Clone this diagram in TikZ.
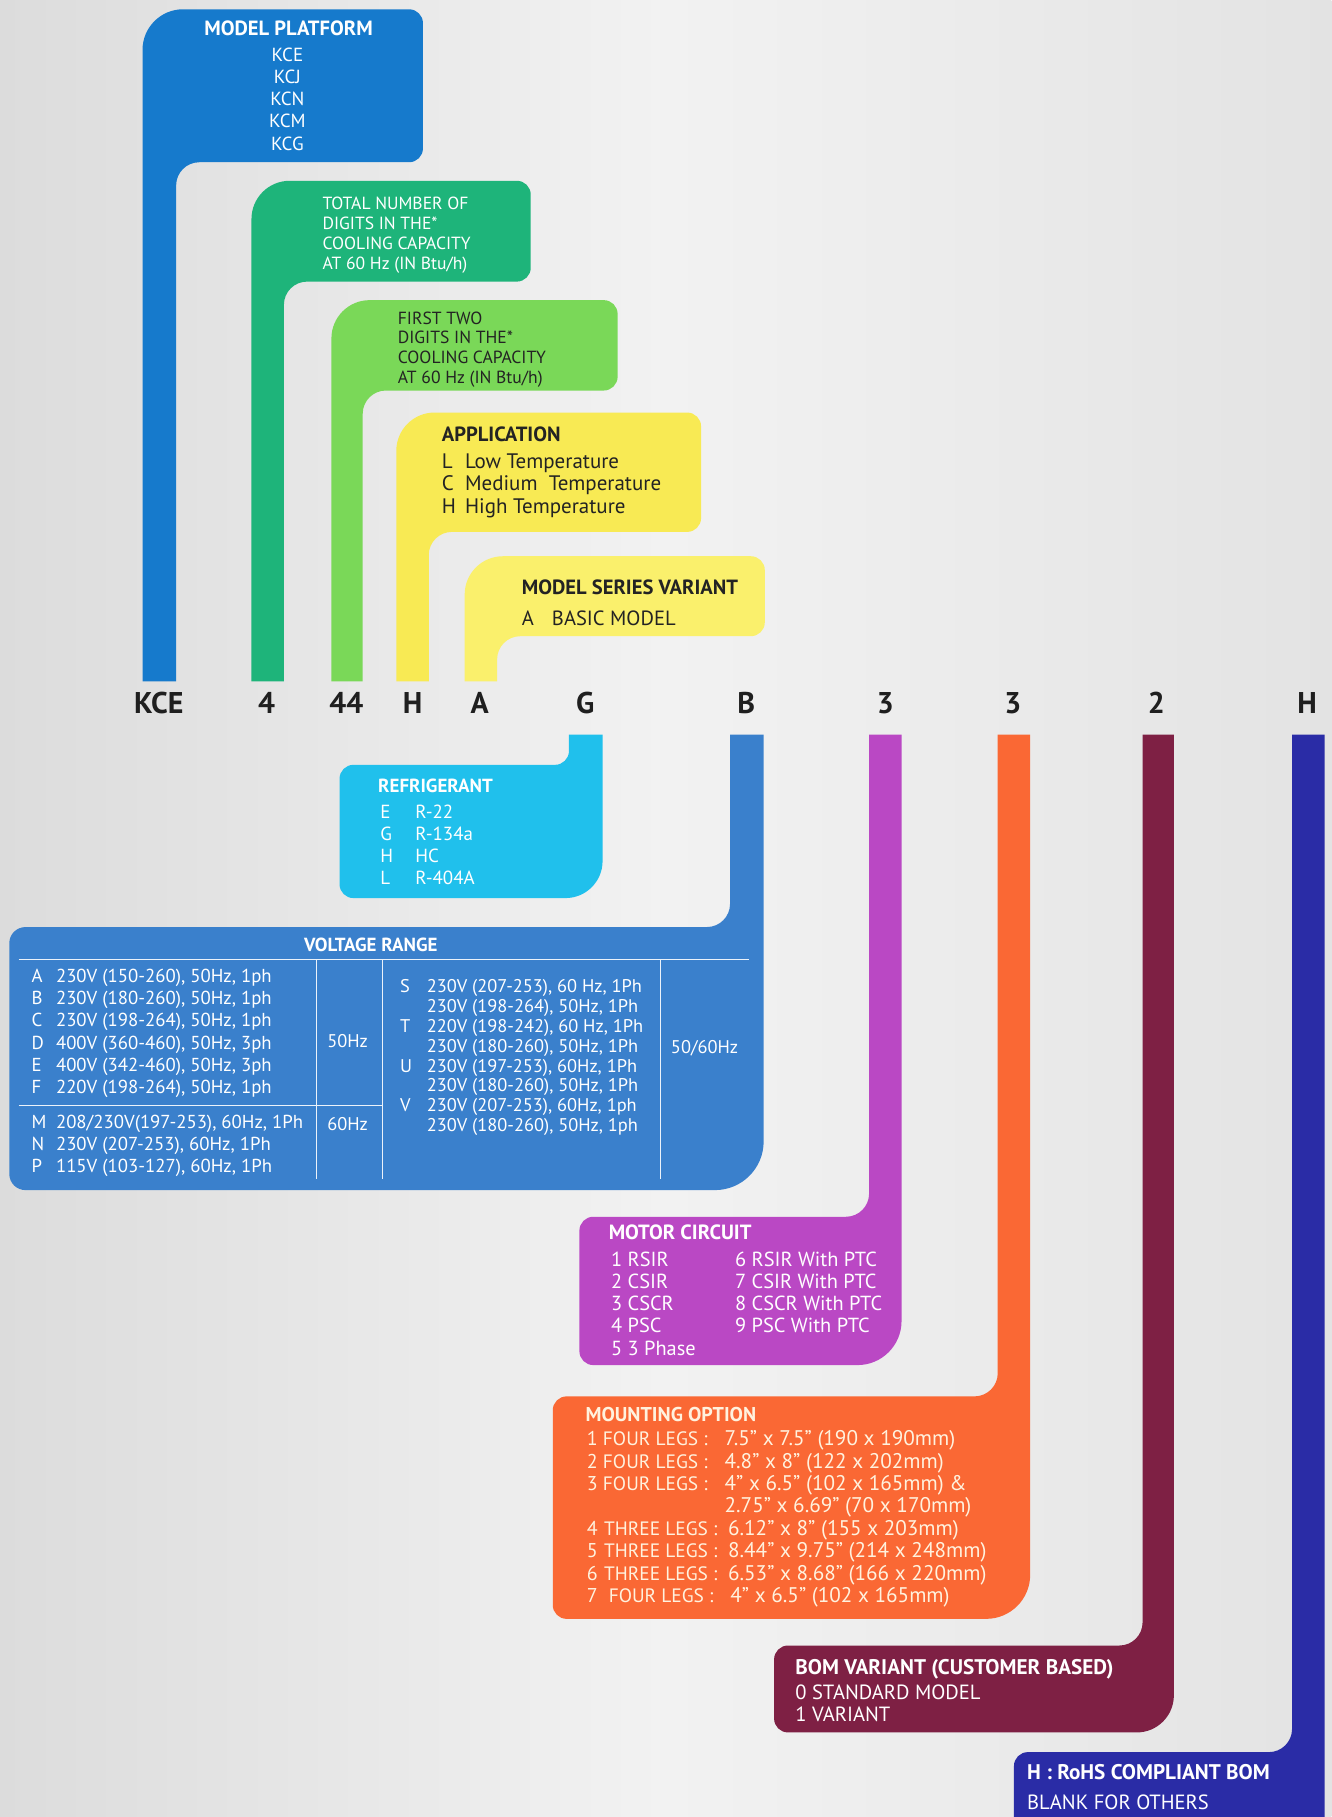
\documentclass[tikz,border=0pt]{standalone}
\usepackage{fontspec}
\setmainfont{PT Sans}
\definecolor{cMP}{RGB}{22,122,204}
\definecolor{cTN}{RGB}{30,180,122}
\definecolor{cFT}{RGB}{122,216,88}
\definecolor{cAP}{RGB}{248,234,84}
\definecolor{cMS}{RGB}{250,240,108}
\definecolor{cRF}{RGB}{32,192,236}
\definecolor{cVR}{RGB}{58,128,204}
\definecolor{cMC}{RGB}{186,72,196}
\definecolor{cMO}{RGB}{250,104,52}
\definecolor{cBV}{RGB}{126,32,68}
\definecolor{cRH}{RGB}{42,44,166}
\definecolor{dark}{RGB}{35,35,35}
\definecolor{cream}{RGB}{255,242,222}
\definecolor{bgA}{RGB}{220,220,220}
\definecolor{bgB}{RGB}{242,242,242}
% #1 colour, #2 x1, #3 xs, #4 x2, #5 yt, #6 yb, #7 R, #8 r, #9 ri
\newcommand\TopShape[9]{%
  \fill[#1] (#2,588) -- (#2,#5+#7) arc[start angle=180,end angle=270,radius=#7]
    -- (#4-#8,#5) arc[start angle=270,end angle=360,radius=#8]
    -- (#4,#6-#8) arc[start angle=0,end angle=90,radius=#8]
    -- (#3+#9,#6) arc[start angle=270,end angle=180,radius=#9]
    -- (#3,588) -- cycle;}
% #1 colour, #2 a, #3 b, #4 x1, #5 yt, #6 yb, #7 R, #8 r, #9 ri
\newcommand\BotShape[9]{%
  \fill[#1] (#2,634) -- (#3,634) -- (#3,#6-#7) arc[start angle=0,end angle=90,radius=#7]
    -- (#4+#8,#6) arc[start angle=90,end angle=180,radius=#8]
    -- (#4,#5+#8) arc[start angle=180,end angle=270,radius=#8]
    -- (#2-#9,#5) arc[start angle=90,end angle=0,radius=#9]
    -- cycle;}
\begin{document}
\begin{tikzpicture}[x=0.58pt,y=-0.58pt,
  tx/.style={inner sep=0pt,anchor=mid west,yshift=-0.8pt,text=white,font=\fontsize{9.5}{11}\selectfont},
  hd/.style={inner sep=0pt,anchor=mid west,yshift=-0.8pt,text=white,font=\fontsize{10}{12}\selectfont\bfseries},
  code/.style={inner sep=0pt,anchor=mid,text=black!88,font=\fontsize{15}{18}\selectfont\bfseries},
  rule/.style={draw=white!90!cVR,line width=0.7pt}]
\clip (0,0) rectangle (1149,1568);
\shade[left color=bgA,right color=bgA!80!white,middle color=bgB] (0,0) rectangle (1149,1568);
% upper shapes
\TopShape{cMP}{123}{152}{365}{8}{140}{35}{12}{20}
\TopShape{cTN}{217}{245}{458}{156}{243}{33}{12}{20}
\TopShape{cFT}{286}{313}{533}{259}{337}{33}{12}{20}
\TopShape{cAP}{342}{370}{605}{356}{459}{33}{12}{20}
\TopShape{cMS}{401}{429}{660}{480}{549}{33}{12}{20}
% lower shapes
\BotShape{cRF}{491}{520}{293}{660}{775}{32}{12}{12}
\BotShape{cVR}{630}{659}{8}{800}{1027}{42}{14}{20}
\BotShape{cMC}{750}{778}{500}{1050}{1178}{38}{12}{20}
\BotShape{cMO}{861}{889}{477}{1205}{1397}{38}{12}{20}
\BotShape{cBV}{986}{1013}{668}{1420}{1495}{32}{12}{20}
\BotShape{cRH}{1115}{1143}{875}{1512}{1600}{32}{12}{20}
% model platform
\node[hd,anchor=mid,font=\fontsize{10.3}{12}\selectfont\bfseries] (mph) at (249,25) {MODEL PLATFORM};
\foreach \t [count=\i] in {KCE,KCJ,KCN,KCM,KCG}
  \node[tx,anchor=mid] (mp\i) at (248,{47+19.2*(\i-1)}) {\t};
% total number
\foreach \t [count=\i] in {TOTAL NUMBER OF,DIGITS IN THE*,COOLING CAPACITY,AT 60 Hz (IN Btu/h)}
  \node[tx,font=\fontsize{8.8}{10}\selectfont] (tn\i) at (278,{175+17.3*(\i-1)}) {\t};
% first two
\foreach \t [count=\i] in {FIRST TWO,DIGITS IN THE*,COOLING CAPACITY,AT 60 Hz (IN Btu/h)}
  \node[tx,text=dark,font=\fontsize{8.8}{10}\selectfont] (ft\i) at (343,{274+17*(\i-1)}) {\t};
% application
\node[hd,text=dark,font=\fontsize{10.3}{12}\selectfont\bfseries] (aph) at (381,375) {APPLICATION};
\foreach \t [count=\i] in {L,C,H}
  \node[tx,text=dark,font=\fontsize{10.5}{12}\selectfont] (apl\i) at (381,{399+19*(\i-1)}) {\t};
\foreach \t [count=\i] in {Low Temperature,Medium~ Temperature,High Temperature}
  \node[tx,text=dark,font=\fontsize{10.5}{12}\selectfont] (apw\i) at (401,{399+19*(\i-1)}) {\t};
% series variant
\node[hd,text=dark,font=\fontsize{10.3}{12}\selectfont\bfseries] (msh) at (450,507) {MODEL SERIES VARIANT};
\node[tx,text=dark,font=\fontsize{10.3}{12}\selectfont] (msa) at (450,534) {A};
\node[tx,text=dark,font=\fontsize{10.3}{12}\selectfont] (msb) at (476,534) {BASIC MODEL};
% code letters
\foreach \t/\xx [count=\i] in {KCE/137,4/230,44/299,H/356,A/414,G/505,B/644,3/764,3/874,2/998,H/1128}
  \node[code] (c\i) at (\xx,611) {\t};
% refrigerant
\node[hd,font=\fontsize{9.5}{11}\selectfont\bfseries] (rfh) at (326,678) {REFRIGERANT};
\foreach \t [count=\i] in {E,G,H,L}
  \node[tx] (rfl\i) at (328,{701+19*(\i-1)}) {\t};
\foreach \t [count=\i] in {R-22,R-134a,HC,R-404A}
  \node[tx] (rfv\i) at (358,{701+19*(\i-1)}) {\t};
% voltage range
\node[hd,anchor=mid,font=\fontsize{9.5}{11}\selectfont\bfseries] (vrh) at (320,815) {VOLTAGE RANGE};
\draw[rule] (16,828) -- (646,828);
\draw[rule] (16,954) -- (330,954);
\draw[rule] (273,828) -- (273,1017);
\draw[rule] (330,828) -- (330,1017);
\draw[rule] (570,828) -- (570,1017);
\foreach \t [count=\i] in {A,B,C,D,E,F}
  \node[tx,font=\fontsize{9.4}{11}\selectfont] (vl\i) at (27,{842+19.2*(\i-1)}) {\t};
\foreach \t [count=\i] in {{230V (150-260), 50Hz, 1ph},{230V (180-260), 50Hz, 1ph},{230V (198-264), 50Hz, 1ph},{400V (360-460), 50Hz, 3ph},{400V (342-460), 50Hz, 3ph},{220V (198-264), 50Hz, 1ph}}
  \node[tx,font=\fontsize{9.4}{11}\selectfont] (vt\i) at (48,{842+19.2*(\i-1)}) {\t};
\foreach \t [count=\i] in {M,N,P}
  \node[tx,font=\fontsize{9.4}{11}\selectfont] (vm\i) at (27,{968+19*(\i-1)}) {\t};
\foreach \t [count=\i] in {{208/230V(197-253), 60Hz, 1Ph},{230V (207-253), 60Hz, 1Ph},{115V (103-127), 60Hz, 1Ph}}
  \node[tx,font=\fontsize{9.4}{11}\selectfont] (vn\i) at (48,{968+19*(\i-1)}) {\t};
\node[tx,anchor=mid,font=\fontsize{9.2}{11}\selectfont] (v50) at (300,898) {50Hz};
\node[tx,anchor=mid,font=\fontsize{9.2}{11}\selectfont] (v60) at (300,970) {60Hz};
\node[tx,anchor=mid,font=\fontsize{9.2}{11}\selectfont] (v5060) at (608,903) {50/60Hz};
\foreach \t/\k in {S/0,T/2,U/4,V/6}
  \node[tx,font=\fontsize{9.2}{11}\selectfont] (vs\t) at (345,{851+17.1*\k}) {\t};
\foreach \t [count=\i] in {{230V (207-253), 60 Hz, 1Ph},{230V (198-264), 50Hz, 1Ph},{220V (198-242), 60 Hz, 1Ph},{230V (180-260), 50Hz, 1Ph},{230V (197-253), 60Hz, 1Ph},{230V (180-260), 50Hz, 1Ph},{230V (207-253), 60Hz, 1ph},{230V (180-260), 50Hz, 1ph}}
  \node[tx,font=\fontsize{9.2}{11}\selectfont] (vr\i) at (368,{851+17.1*(\i-1)}) {\t};
% motor circuit
\node[hd,font=\fontsize{10.3}{12}\selectfont\bfseries] (mch) at (525,1064) {MOTOR CIRCUIT};
\foreach \t [count=\i] in {1 RSIR,2 CSIR,3 CSCR,4 PSC,5 3 Phase}
  \node[tx,font=\fontsize{10.2}{12}\selectfont] (mcl\i) at (527,{1087+19.2*(\i-1)}) {\t};
\foreach \t [count=\i] in {6 RSIR With PTC,7 CSIR With PTC,8 CSCR With PTC,9 PSC With PTC}
  \node[tx,font=\fontsize{10.2}{12}\selectfont] (mcr\i) at (634,{1087+19.2*(\i-1)}) {\t};
% mounting option
\node[hd,text=cream] (moh) at (505,1221) {MOUNTING OPTION};
\foreach \t/\k in {1/0,2/1,3/2,4/4,5/5,6/6,7/7}
  \node[tx,text=cream,font=\fontsize{10}{12}\selectfont] (mon\t) at (506,{1242+19.3*\k}) {\t};
\foreach \t/\k/\xx in {FOUR LEGS :/0/520,FOUR LEGS :/1/520,FOUR LEGS :/2/520,THREE LEGS :/4/521,THREE LEGS :/5/521,THREE LEGS :/6/521,FOUR LEGS :/7/525}
  \node[tx,text=cream,font=\fontsize{9.7}{12}\selectfont] (mol\k) at (\xx,{1242+19.3*\k}) {\t};
\foreach \t/\k/\xx in {{7.5" x 7.5" (190 x 190mm)}/0/625,{4.8" x 8" (122 x 202mm)}/1/625,{4" x 6.5" (102 x 165mm) \&}/2/625,{2.75" x 6.69" (70 x 170mm)}/3/625,{6.12" x 8" (155 x 203mm)}/4/628,{8.44" x 9.75" (214 x 248mm)}/5/628,{6.53" x 8.68" (166 x 220mm)}/6/628,{4" x 6.5" (102 x 165mm)}/7/630}
  \node[tx,text=cream,font=\fontsize{10.6}{12}\selectfont] (mod\k) at (\xx,{1242+19.3*\k}) {\t};
% BOM variant
\node[hd,font=\fontsize{10.6}{12}\selectfont\bfseries] (bvh) at (686,1439) {BOM VARIANT (CUSTOMER BASED)};
\node[tx,font=\fontsize{10.3}{12}\selectfont] (bv0) at (686,1461) {0 STANDARD MODEL};
\node[tx,font=\fontsize{10.3}{12}\selectfont] (bv1) at (686,1480) {1 VARIANT};
% RoHS
\node[hd,font=\fontsize{10.6}{12}\selectfont\bfseries] (rhh) at (886,1530) {H : RoHS COMPLIANT BOM};
\node[tx,font=\fontsize{10.3}{12}\selectfont] (rh1) at (886,1556) {BLANK FOR OTHERS};
\end{tikzpicture}
\end{document}
